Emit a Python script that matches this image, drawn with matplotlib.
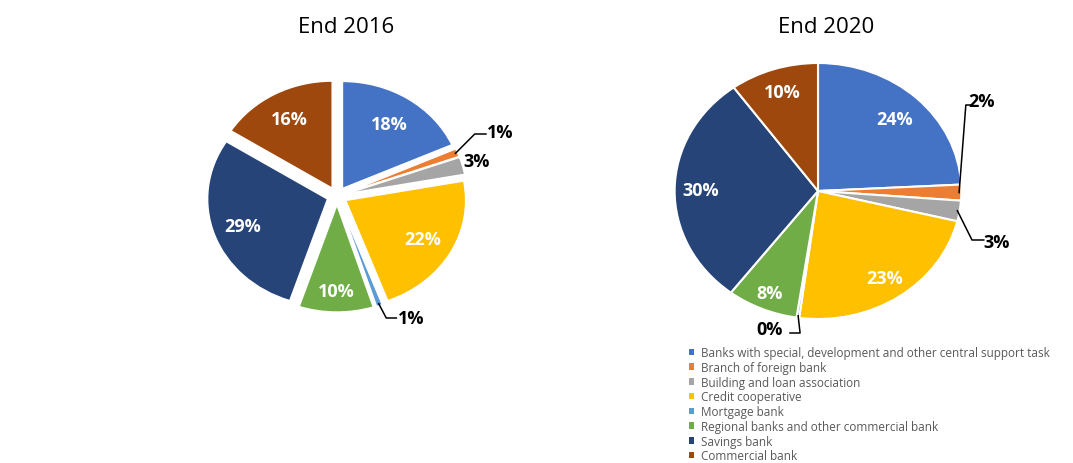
import numpy as np
import matplotlib
matplotlib.use('Agg')
import matplotlib.pyplot as plt
from matplotlib.patches import Patch

plt.rcParams['font.family'] = ['Open Sans', 'DejaVu Sans']

categories = ['Banks with special, development and other central support task',
              'Branch of foreign bank',
              'Building and loan association',
              'Credit cooperative',
              'Mortgage bank',
              'Regional banks and other commercial bank',
              'Savings bank',
              'Commercial bank']
colors = ['#4472C4', '#ED7D31', '#A5A5A5', '#FFC000', '#5B9BD5', '#70AD47', '#264478', '#9E480E']

share_2016 = [18.3, 1.2, 2.6, 22.2, 0.8, 10.0, 28.9, 16.0]
labels_2016 = ['18%', '1%', '3%', '22%', '1%', '10%', '29%', '16%']
share_2020 = [24.2, 2.0, 2.6, 23.3, 0.3, 8.0, 29.6, 10.0]
labels_2020 = ['24%', '2%', '3%', '23%', '0%', '8%', '30%', '10%']

W, H = 1073, 464
fig = plt.figure(figsize=(W / 100, H / 100), dpi=100)

# the reference pies are slightly wider than tall: 112 px per unit across, 100 px up
SX, SY = 112, 100


def pie_axes(cx, cy):
    w, h = 3 * SX, 3 * SY
    ax = fig.add_axes([(cx - w / 2) / W, (H - cy - h / 2) / H, w / W, h / H])
    ax.axis('off')
    return ax


def mid_angles(values):
    tot = sum(values)
    cum = np.cumsum([0] + list(values)) / tot
    mids = (cum[:-1] + cum[1:]) / 2
    # clockwise from 12 o'clock
    return np.deg2rad(90 - mids * 360)


def draw_pie(ax, values, labels, radius, explode, inner, outer, lw):
    ax.pie(values, colors=colors, startangle=90, counterclock=False, radius=radius,
           explode=[explode] * len(values),
           wedgeprops=dict(edgecolor='white', linewidth=lw))
    # pie() resets the limits, so fix them afterwards
    ax.set_xlim(-1.5, 1.5)
    ax.set_ylim(-1.5, 1.5)
    ax.set_aspect('auto')
    ang = mid_angles(values)
    for i, lab in enumerate(labels):
        if i in inner:
            d = inner[i] * radius + explode
            ax.text(d * np.cos(ang[i]), d * np.sin(ang[i]), lab, ha='center', va='center',
                    color='white', fontsize=13, fontweight='bold')
        else:
            tx, ty, elbow = outer[i]
            r0 = radius + explode - 0.02
            px, py = r0 * np.cos(ang[i]), r0 * np.sin(ang[i])
            ax.text(tx, ty, lab, ha='center', va='center', color='black',
                    fontsize=13, fontweight='bold')
            if elbow is not None:
                ex, ey, hx = elbow
                ax.plot([px, ex, hx], [py, ey, ey], color='black', lw=1.1, clip_on=False)


ax1 = pie_axes(337, 197)
draw_pie(ax1, share_2016, labels_2016, 1.07, 0.09,
         inner={0: 0.72, 3: 0.74, 5: 0.80, 6: 0.75, 7: 0.74},
         outer={1: (1.46, 0.64, (1.23, 0.62, 1.33)),
                2: (1.25, 0.35, None),
                4: (0.66, -1.22, (0.44, -1.22, 0.53))},
         lw=1.0)

ax2 = pie_axes(818, 192)
draw_pie(ax2, share_2020, labels_2020, 1.28, 0.0,
         inner={0: 0.78, 3: 0.82, 5: 0.87, 6: 0.82, 7: 0.81},
         outer={1: (1.46, 0.90, (1.32, 0.86, 1.38)),
                2: (1.59, -0.51, (1.375, -0.49, 1.48)),
                4: (-0.43, -1.38, (-0.16, -1.42, -0.25))},
         lw=1.5)

fig.text(346 / W, 1 - 33 / H, 'End 2016', ha='center', va='baseline', fontsize=16)
fig.text(826 / W, 1 - 33 / H, 'End 2020', ha='center', va='baseline', fontsize=16)

handles = [Patch(facecolor=c, edgecolor='none') for c in colors]
leg = fig.legend(handles, categories, loc='upper left', bbox_to_anchor=(689 / W, 1 - 347 / H),
                 frameon=False, fontsize=8.5, labelspacing=0.15, handlelength=0.45,
                 handleheight=0.45, handletextpad=0.6, borderpad=0, borderaxespad=0)
for t in leg.get_texts():
    t.set_color('#595959')

fig.savefig('out.png', dpi=100)
